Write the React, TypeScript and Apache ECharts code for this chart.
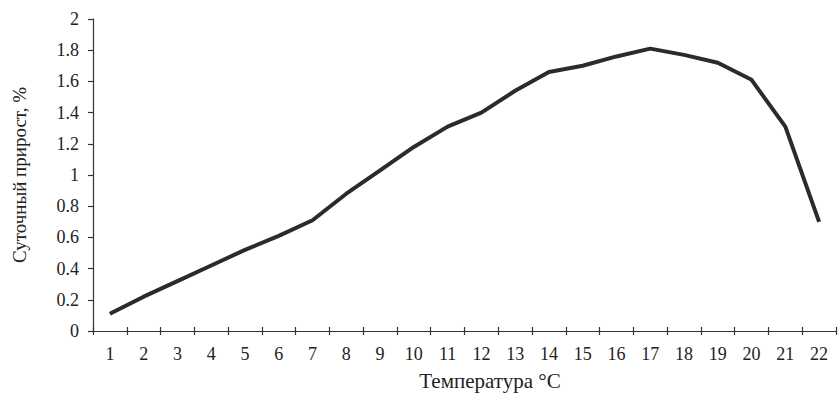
import React, { useEffect, useRef } from "react";
import * as echarts from "echarts";

const categories = ["1","2","3","4","5","6","7","8","9","10","11","12","13","14","15","16","17","18","19","20","21","22"];
const growth = [0.11,0.22,0.32,0.42,0.52,0.61,0.71,0.88,1.03,1.18,1.31,1.4,1.54,1.66,1.7,1.76,1.81,1.77,1.72,1.61,1.31,0.7];
const yTitle = "Суточный прирост, %";
const xTitle = "Температура °C";

export default function App() {
  const ref = useRef<HTMLDivElement>(null);
  useEffect(() => {
    if (!ref.current) return;
    const chart = echarts.init(ref.current, null, { renderer: "svg" });
    const font = "Liberation Serif";
    chart.setOption({
      animation: false,
      backgroundColor: "#ffffff",
      grid: { left: 93, right: 2, top: 19, bottom: 81, containLabel: false },
      xAxis: [
        {
          type: "category",
          data: categories,
          boundaryGap: true,
          axisLine: { show: true, lineStyle: { color: "#333", width: 1.2 } },
          axisTick: { show: true, inside: false, length: 4, lineStyle: { color: "#333", width: 1.2 } },
          axisLabel: { color: "#222", fontFamily: font, fontSize: 18, margin: 14 },
          splitLine: { show: false },
        },
        {
          type: "category",
          data: categories,
          boundaryGap: true,
          position: "bottom",
          axisLine: { show: false },
          axisTick: { show: true, inside: true, length: 4, lineStyle: { color: "#333", width: 1.2 } },
          axisLabel: { show: false },
          splitLine: { show: false },
        },
      ],
      yAxis: {
        type: "value",
        min: 0,
        max: 2,
        interval: 0.2,
        name: yTitle,
        nameLocation: "middle",
        nameGap: 64,
        nameRotate: 90,
        nameTextStyle: { color: "#222", fontFamily: font, fontSize: 19 },
        axisLine: { show: true, lineStyle: { color: "#333", width: 1.2 } },
        axisTick: { show: true, inside: false, length: 5, lineStyle: { color: "#333", width: 1.2 } },
        axisLabel: { color: "#222", fontFamily: font, fontSize: 18, margin: 14 },
        splitLine: { show: false },
      },
      graphic: [
        {
          type: "text",
          x: 490,
          y: 381,
          style: { text: xTitle, fill: "#222", font: `21px "${font}"`, align: "center", verticalAlign: "middle" },
        },
      ],
      series: [
        {
          type: "line",
          data: growth,
          symbol: "none",
          smooth: false,
          lineStyle: { color: "#2b2b2b", width: 4 },
        },
      ],
    });
    return () => chart.dispose();
  }, []);
  return (
    <div
      ref={ref}
      style={{ position: "fixed", left: 0, top: 0, width: 838, height: 412, background: "#fff" }}
    />
  );
}
